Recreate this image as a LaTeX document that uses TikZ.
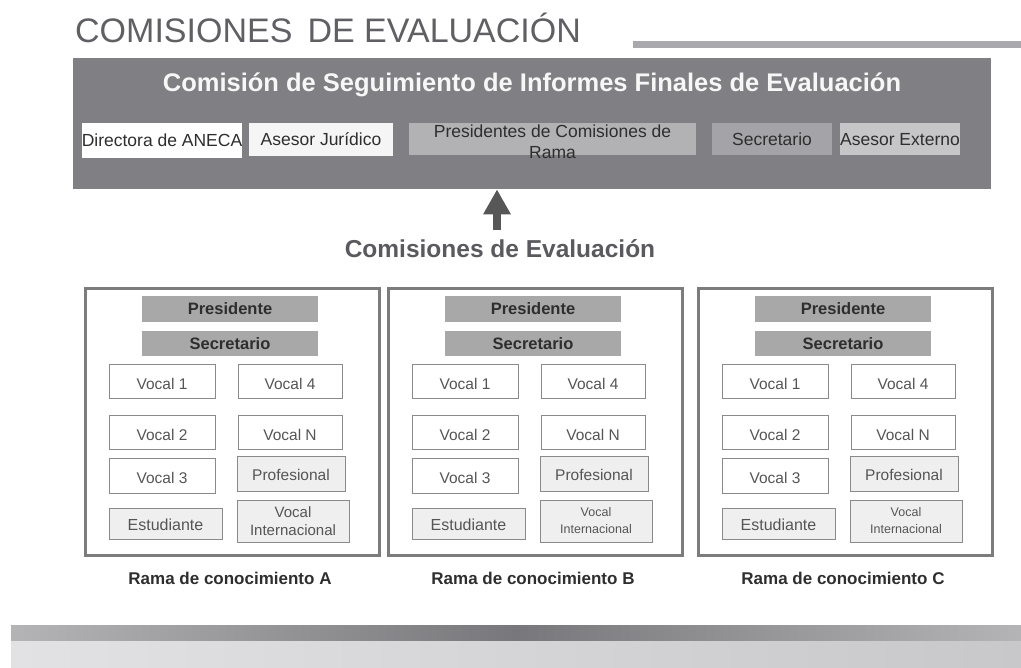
\documentclass[tikz,border=0pt]{standalone}
\usepackage{fontspec}
\setmainfont{Liberation Sans}
\usepackage{tikz}
\usepackage{xcolor}
\usetikzlibrary{arrows.meta, positioning, calc}
\definecolor{CajaOscura}{HTML}{7F7F84}
\definecolor{GrisTitulo}{HTML}{606064}
\definecolor{GrisRaya}{HTML}{A9A9AD}
\definecolor{GrisJuridico}{HTML}{F5F5F5}
\definecolor{GrisPresidentes}{HTML}{B2B2B4}
\definecolor{GrisSecretario}{HTML}{A4A4A8}
\definecolor{GrisExterno}{HTML}{C6C6C8}
\definecolor{TextoOscuro}{HTML}{2E2E2E}
\definecolor{GrisBarra}{HTML}{A8A8A8}
\definecolor{GrisLinea}{HTML}{8A8A8A}
\definecolor{GrisClaro}{HTML}{EFEFEF}
\definecolor{TextoMedio}{HTML}{555555}
\definecolor{GrisMarco}{HTML}{7C7C7C}
\definecolor{GrisFlecha}{HTML}{575757}
\definecolor{GrisEtiqueta}{HTML}{5A5A5E}
\definecolor{BandaClara}{HTML}{B4B4B6}
\definecolor{BandaOscura}{HTML}{78787C}
\definecolor{FondoClaro}{HTML}{E2E2E4}
\definecolor{FondoMedio}{HTML}{C8C8CA}
\tikzset{
    % Top committee boxes
    topbox/.style={
        rectangle,
        inner sep=0pt,
        minimum height=34,
        text height=13,
        text depth=0,
        text=TextoOscuro,
        font=\fontsize{17.5}{21}\selectfont
    },
    % Bars inside each panel
    barbox/.style={
        rectangle,
        fill=GrisBarra,
        inner sep=0pt,
        minimum width=176,
        text height=12,
        text depth=0,
        text=TextoOscuro,
        font=\fontsize{16.5}{20}\selectfont\bfseries
    },
    vocalbox/.style={
        rectangle,
        draw=GrisLinea,
        fill=white,
        line width=1pt,
        inner sep=0pt,
        minimum height=34,
        text height=15,
        text depth=0,
        text=TextoMedio,
        font=\fontsize{15.5}{18}\selectfont
    },
    extrabox/.style={
        vocalbox,
        fill=GrisClaro
    },
    panelbox/.style={
        rectangle,
        draw=GrisMarco,
        line width=3pt,
        fill=white,
        inner sep=0pt,
        minimum width=294,
        minimum height=267
    },
    ramalabel/.style={
        text=TextoOscuro,
        font=\fontsize{17}{20}\selectfont\bfseries
    },
    % Arrow style
    bigarrow/.style={
        -{Triangle[width=26pt,length=25pt]},
        line width=8pt,
        draw=GrisFlecha
    }
}

\begin{document}
\begin{tikzpicture}[x=1pt, y=-1pt]
    \useasboundingbox (0,0) rectangle (1021,668);

    % Title and rule
    \node[anchor=base west, inner sep=0pt, text=GrisTitulo, font=\fontsize{34}{40}\selectfont] (titulo) at (75,43) {COMISIONES\ \,DE EVALUACIÓN};
    \draw[line width=6.5, GrisRaya] (633,44.5) -- (1021,44.5);

    % Follow-up committee
    \node[rectangle, fill=CajaOscura, inner sep=0pt, minimum width=918, minimum height=131, anchor=north west] (seguimiento) at (73,58) {};
    \node[anchor=base, text=white!94!gray, font=\fontsize{25.5}{29}\selectfont\bfseries] (cabecera) at (532,92) {Comisión de Seguimiento de Informes Finales de Evaluación};

    \node[topbox, fill=white, minimum width=160, minimum height=35] (directora) at (162,140.5) {Directora de ANECA};
    \node[topbox, fill=GrisJuridico, minimum width=144, minimum height=33] (juridico) at (321,139.5) {Asesor Jurídico};
    \node[topbox, fill=GrisPresidentes, minimum width=287, minimum height=32] (presidentes) at (552.5,139) {};
    \node[align=center, text=TextoOscuro, font=\fontsize{17.5}{21}\selectfont] (presidentesTxt) at ([yshift=-3]presidentes.center) {Presidentes de Comisiones de\\Rama};
    \node[topbox, fill=GrisSecretario, minimum width=120, minimum height=32] (secretario) at (772,139) {Secretario};
    \node[topbox, fill=GrisExterno, minimum width=120, minimum height=32] (externo) at (900,139) {Asesor Externo};

    % Evaluation committees
    \node[anchor=base, inner sep=1pt, text=GrisEtiqueta, font=\fontsize{24.5}{28}\selectfont\bfseries] (evaluacion) at (500,258) {Comisiones de Evaluación};
    \draw[bigarrow, shorten <=9pt] ([xshift=-3]evaluacion.north) -- ([xshift=-3]evaluacion.north |- seguimiento.south);

    % One panel per branch
    \foreach \L/\r/\fs/\bs in {84/A/15/18, 387/B/12.5/17, 697/C/12.5/17} {
        \node[panelbox, anchor=north west] (panel\r) at (\L,287) {};
        \node[barbox, minimum height=26] (pres\r) at (\L+146,309) {Presidente};
        \node[barbox, minimum height=25] (sec\r) at (\L+146,343.5) {Secretario};
        \node[vocalbox, minimum width=106] (vocalUno\r) at (\L+78,382) {Vocal 1};
        \node[vocalbox, minimum width=104] (vocalCuatro\r) at (\L+206,382) {Vocal 4};
        \node[vocalbox, minimum width=106] (vocalDos\r) at (\L+78,433) {Vocal 2};
        \node[vocalbox, minimum width=104] (vocalN\r) at (\L+206,433) {Vocal N};
        \node[vocalbox, minimum width=106] (vocalTres\r) at (\L+78,476) {Vocal 3};
        \node[extrabox, minimum width=108, text height=13] (profesional\r) at (\L+207,474) {Profesional};
        \node[extrabox, minimum width=113, minimum height=31, text height=13, font=\fontsize{16}{19}\selectfont] (estudiante\r) at (\L+81.5,523.5) {Estudiante};
        \node[extrabox, minimum width=112, minimum height=42, text height=, text depth=, align=center, font=\fontsize{\fs}{\bs}\selectfont] (internacional\r) at (\L+209,521) {Vocal\\Internacional};
        \node[ramalabel, anchor=base] (rama\r) at (\L+146,584) {Rama de conocimiento \r};
    }

    % Bottom band
    \shade[left color=BandaClara, right color=BandaClara, middle color=BandaOscura] (11,625) rectangle (1021,641);
    \shade[left color=FondoClaro, right color=FondoMedio] (11,641) rectangle (1021,668);
\end{tikzpicture}
\end{document}
